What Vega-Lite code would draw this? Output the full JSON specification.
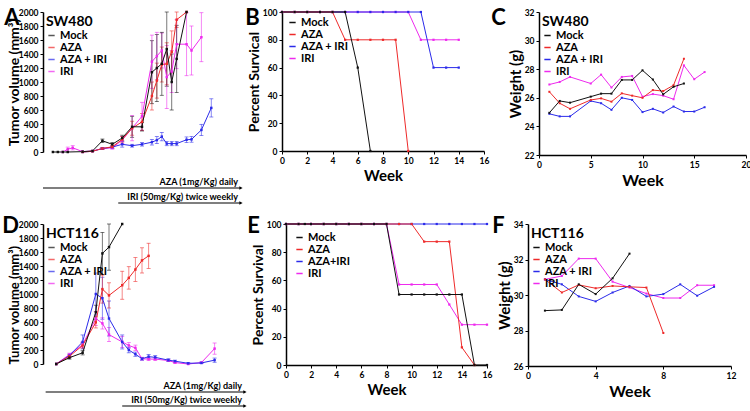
{
"$schema": "https://vega.github.io/schema/vega-lite/v6.json",
"padding": {"left": 2, "top": 7, "right": 0, "bottom": 0},
"config": {
  "font": "Lato",
  "view": {"stroke": null},
  "title": {"fontSize": 22, "fontWeight": "bold", "color": "black", "font": "Lato"},
  "axis": {"domainColor": "black", "domainWidth": 1.5, "tickColor": "black", "tickWidth": 1, "tickSize": 3, "labelFontSize": 8.5, "labelFontWeight": "bold", "labelColor": "black", "titleFontSize": 15, "titleFontWeight": "bold", "titleColor": "black", "grid": false, "labelFlush": false, "labelPadding": 2, "titlePadding": 4, "labelFont": "Lato", "titleFont": "Lato"},
  "axisY": {"titlePadding": 1},
  "legend": {"labelFont": "Lato", "titleFont": "Lato", "labelFontWeight": "bold", "labelFontSize": 11, "titleFontSize": 14, "titleFontWeight": "bold", "labelColor": "black", "titleColor": "black", "symbolType": "stroke", "symbolStrokeWidth": 1.5, "symbolSize": 40, "rowPadding": 0, "padding": 0, "titlePadding": 1, "orient": "top-left", "offset": 3, "labelOffset": 3}
},
"datasets": {
  "swTumor": [
    {"g":"IRI","week":2,"value":0},{"g":"IRI","week":2.5,"value":40,"err":30},{"g":"IRI","week":3,"value":60,"err":30},{"g":"IRI","week":4,"value":5},{"g":"IRI","week":5,"value":15},{"g":"IRI","week":6,"value":50,"err":15},{"g":"IRI","week":7,"value":60,"err":20},{"g":"IRI","week":8,"value":170,"err":50},{"g":"IRI","week":9,"value":340,"err":180},{"g":"IRI","week":10,"value":510,"err":200},{"g":"IRI","week":11,"value":1290,"err":380},{"g":"IRI","week":11.5,"value":1370,"err":340},{"g":"IRI","week":12,"value":1450,"err":250},{"g":"IRI","week":12.5,"value":1070,"err":450},{"g":"IRI","week":13,"value":1150,"err":300},{"g":"IRI","week":13.5,"value":1540,"err":350},{"g":"IRI","week":14.5,"value":1540,"err":450},{"g":"IRI","week":15,"value":1450,"err":350},{"g":"IRI","week":16,"value":1640,"err":350},
    {"g":"AZA + IRI","week":4,"value":0},{"g":"AZA + IRI","week":5,"value":10},{"g":"AZA + IRI","week":6,"value":50,"err":10},{"g":"AZA + IRI","week":7,"value":70,"err":15},{"g":"AZA + IRI","week":8,"value":110,"err":40},{"g":"AZA + IRI","week":9,"value":90,"err":20},{"g":"AZA + IRI","week":10,"value":110,"err":25},{"g":"AZA + IRI","week":11,"value":140,"err":40},{"g":"AZA + IRI","week":11.5,"value":170,"err":50},{"g":"AZA + IRI","week":12,"value":220,"err":60},{"g":"AZA + IRI","week":12.5,"value":120,"err":30},{"g":"AZA + IRI","week":13,"value":120,"err":30},{"g":"AZA + IRI","week":13.5,"value":120,"err":30},{"g":"AZA + IRI","week":14.5,"value":175,"err":40},{"g":"AZA + IRI","week":15,"value":180,"err":40},{"g":"AZA + IRI","week":16,"value":315,"err":80},{"g":"AZA + IRI","week":17,"value":630,"err":130},
    {"g":"AZA","week":4,"value":0},{"g":"AZA","week":5,"value":10},{"g":"AZA","week":6,"value":50,"err":15},{"g":"AZA","week":7,"value":75,"err":20},{"g":"AZA","week":8,"value":180,"err":40},{"g":"AZA","week":9,"value":340,"err":100},{"g":"AZA","week":10,"value":430,"err":120},{"g":"AZA","week":11,"value":800,"err":200},{"g":"AZA","week":11.5,"value":1020,"err":250},{"g":"AZA","week":12,"value":1250,"err":250},{"g":"AZA","week":12.5,"value":1260,"err":300},{"g":"AZA","week":13,"value":1430,"err":300},{"g":"AZA","week":13.5,"value":1890,"err":110},{"g":"AZA","week":14.5,"value":2000},
    {"g":"Mock","week":1,"value":0},{"g":"Mock","week":1.5,"value":0},{"g":"Mock","week":2,"value":0},{"g":"Mock","week":2.5,"value":0},{"g":"Mock","week":4,"value":5},{"g":"Mock","week":5,"value":15},{"g":"Mock","week":6,"value":160,"err":25},{"g":"Mock","week":7,"value":110,"err":25},{"g":"Mock","week":8,"value":200,"err":40},{"g":"Mock","week":9,"value":360,"err":150},{"g":"Mock","week":10,"value":360,"err":60},{"g":"Mock","week":11,"value":1140,"err":450},{"g":"Mock","week":11.5,"value":1200,"err":480},{"g":"Mock","week":12,"value":1260,"err":450},{"g":"Mock","week":12.5,"value":1470,"err":530},{"g":"Mock","week":13,"value":1000,"err":400},{"g":"Mock","week":13.5,"value":1330,"err":480},{"g":"Mock","week":14.5,"value":2000}
  ],
  "hctTumor": [
    {"g":"IRI","week":1,"value":0},{"g":"IRI","week":2,"value":135,"err":20},{"g":"IRI","week":3,"value":275,"err":40},{"g":"IRI","week":4,"value":650,"err":100},{"g":"IRI","week":4.5,"value":580,"err":80},{"g":"IRI","week":5,"value":420,"err":100},{"g":"IRI","week":6,"value":315,"err":80},{"g":"IRI","week":6.5,"value":265,"err":40},{"g":"IRI","week":7,"value":230,"err":40},{"g":"IRI","week":7.5,"value":75,"err":20},{"g":"IRI","week":8,"value":70,"err":20},{"g":"IRI","week":8.5,"value":70,"err":20},{"g":"IRI","week":9.5,"value":50,"err":15},{"g":"IRI","week":10,"value":20,"err":10},{"g":"IRI","week":11,"value":0},{"g":"IRI","week":12,"value":20,"err":10},{"g":"IRI","week":13,"value":220,"err":80},
    {"g":"AZA + IRI","week":1,"value":0},{"g":"AZA + IRI","week":2,"value":120,"err":20},{"g":"AZA + IRI","week":3,"value":315,"err":100},{"g":"AZA + IRI","week":4,"value":1000,"err":300},{"g":"AZA + IRI","week":4.5,"value":940,"err":300},{"g":"AZA + IRI","week":5,"value":650,"err":250},{"g":"AZA + IRI","week":6,"value":315,"err":100},{"g":"AZA + IRI","week":6.5,"value":200,"err":40},{"g":"AZA + IRI","week":7,"value":140,"err":30},{"g":"AZA + IRI","week":7.5,"value":75,"err":20},{"g":"AZA + IRI","week":8,"value":105,"err":30},{"g":"AZA + IRI","week":8.5,"value":95,"err":25},{"g":"AZA + IRI","week":9.5,"value":55,"err":20},{"g":"AZA + IRI","week":10,"value":40,"err":15},{"g":"AZA + IRI","week":11,"value":10,"err":10},{"g":"AZA + IRI","week":12,"value":15,"err":10},{"g":"AZA + IRI","week":13,"value":55,"err":30},
    {"g":"AZA","week":1,"value":0},{"g":"AZA","week":2,"value":110,"err":20},{"g":"AZA","week":3,"value":265,"err":40},{"g":"AZA","week":4,"value":595,"err":80},{"g":"AZA","week":4.5,"value":1070,"err":200},{"g":"AZA","week":5,"value":980,"err":180},{"g":"AZA","week":6,"value":1125,"err":200},{"g":"AZA","week":6.5,"value":1230,"err":160},{"g":"AZA","week":7,"value":1350,"err":170},{"g":"AZA","week":7.5,"value":1480,"err":180},{"g":"AZA","week":8,"value":1545,"err":180},
    {"g":"Mock","week":1,"value":0},{"g":"Mock","week":2,"value":90,"err":20},{"g":"Mock","week":3,"value":160,"err":30},{"g":"Mock","week":4,"value":740,"err":100},{"g":"Mock","week":4.5,"value":1580,"err":300},{"g":"Mock","week":5,"value":1670,"err":330},{"g":"Mock","week":6,"value":2000}
  ],
  "swSurv": [
    {"g":"IRI","week":0,"value":100},{"g":"IRI","week":1,"value":100},{"g":"IRI","week":2,"value":100},{"g":"IRI","week":3,"value":100},{"g":"IRI","week":4,"value":100},{"g":"IRI","week":5,"value":100},{"g":"IRI","week":6,"value":100},{"g":"IRI","week":7,"value":100},{"g":"IRI","week":8,"value":100},{"g":"IRI","week":9,"value":100},{"g":"IRI","week":10,"value":100},{"g":"IRI","week":11,"value":80},{"g":"IRI","week":12,"value":80},{"g":"IRI","week":13,"value":80},{"g":"IRI","week":14,"value":80},
    {"g":"AZA + IRI","week":0,"value":100},{"g":"AZA + IRI","week":1,"value":100},{"g":"AZA + IRI","week":2,"value":100},{"g":"AZA + IRI","week":3,"value":100},{"g":"AZA + IRI","week":4,"value":100},{"g":"AZA + IRI","week":5,"value":100},{"g":"AZA + IRI","week":6,"value":100},{"g":"AZA + IRI","week":7,"value":100},{"g":"AZA + IRI","week":8,"value":100},{"g":"AZA + IRI","week":9,"value":100},{"g":"AZA + IRI","week":10,"value":100},{"g":"AZA + IRI","week":11,"value":100},{"g":"AZA + IRI","week":12,"value":60},{"g":"AZA + IRI","week":13,"value":60},{"g":"AZA + IRI","week":14,"value":60},
    {"g":"AZA","week":0,"value":100},{"g":"AZA","week":1,"value":100},{"g":"AZA","week":2,"value":100},{"g":"AZA","week":3,"value":100},{"g":"AZA","week":4,"value":100},{"g":"AZA","week":5,"value":80},{"g":"AZA","week":6,"value":80},{"g":"AZA","week":7,"value":80},{"g":"AZA","week":8,"value":80},{"g":"AZA","week":9,"value":80},{"g":"AZA","week":10,"value":0},
    {"g":"Mock","week":0,"value":100},{"g":"Mock","week":1,"value":100},{"g":"Mock","week":2,"value":100},{"g":"Mock","week":3,"value":100},{"g":"Mock","week":4,"value":100},{"g":"Mock","week":5,"value":100},{"g":"Mock","week":6,"value":60},{"g":"Mock","week":7,"value":0}
  ],
  "hctSurv": [
    {"g":"IRI","week":0,"value":100},{"g":"IRI","week":1,"value":100},{"g":"IRI","week":2,"value":100},{"g":"IRI","week":3,"value":100},{"g":"IRI","week":4,"value":100},{"g":"IRI","week":5,"value":100},{"g":"IRI","week":6,"value":100},{"g":"IRI","week":7,"value":100},{"g":"IRI","week":8,"value":100},{"g":"IRI","week":9,"value":57.1},{"g":"IRI","week":10,"value":57.1},{"g":"IRI","week":11,"value":57.1},{"g":"IRI","week":12,"value":57.1},{"g":"IRI","week":13,"value":42.9},{"g":"IRI","week":14,"value":28.6},{"g":"IRI","week":15,"value":28.6},{"g":"IRI","week":16,"value":28.6},
    {"g":"AZA+IRI","week":0,"value":100},{"g":"AZA+IRI","week":1,"value":100},{"g":"AZA+IRI","week":2,"value":100},{"g":"AZA+IRI","week":3,"value":100},{"g":"AZA+IRI","week":4,"value":100},{"g":"AZA+IRI","week":5,"value":100},{"g":"AZA+IRI","week":6,"value":100},{"g":"AZA+IRI","week":7,"value":100},{"g":"AZA+IRI","week":8,"value":100},{"g":"AZA+IRI","week":9,"value":100},{"g":"AZA+IRI","week":10,"value":100},{"g":"AZA+IRI","week":11,"value":100},{"g":"AZA+IRI","week":12,"value":100},{"g":"AZA+IRI","week":13,"value":100},{"g":"AZA+IRI","week":14,"value":100},{"g":"AZA+IRI","week":15,"value":100},{"g":"AZA+IRI","week":16,"value":100},
    {"g":"AZA","week":0,"value":100},{"g":"AZA","week":1,"value":100},{"g":"AZA","week":2,"value":100},{"g":"AZA","week":3,"value":100},{"g":"AZA","week":4,"value":100},{"g":"AZA","week":5,"value":100},{"g":"AZA","week":6,"value":100},{"g":"AZA","week":7,"value":100},{"g":"AZA","week":8,"value":100},{"g":"AZA","week":9,"value":100},{"g":"AZA","week":10,"value":100},{"g":"AZA","week":11,"value":87.5},{"g":"AZA","week":12,"value":87.5},{"g":"AZA","week":13,"value":87.5},{"g":"AZA","week":14,"value":12.5},{"g":"AZA","week":15,"value":0},
    {"g":"Mock","week":0,"value":100},{"g":"Mock","week":1,"value":100},{"g":"Mock","week":1.5,"value":100},{"g":"Mock","week":2,"value":100},{"g":"Mock","week":3,"value":100},{"g":"Mock","week":4,"value":100},{"g":"Mock","week":5,"value":100},{"g":"Mock","week":6,"value":100},{"g":"Mock","week":7,"value":100},{"g":"Mock","week":8,"value":100},{"g":"Mock","week":9,"value":50},{"g":"Mock","week":10,"value":50},{"g":"Mock","week":11,"value":50},{"g":"Mock","week":12,"value":50},{"g":"Mock","week":13,"value":50},{"g":"Mock","week":14,"value":50},{"g":"Mock","week":15,"value":0},{"g":"Mock","week":16,"value":0}
  ],
  "swWeight": [
    {"g":"IRI","week":1,"value":26.93},{"g":"IRI","week":2,"value":27.11},{"g":"IRI","week":3,"value":27.46},{"g":"IRI","week":5,"value":27.0},{"g":"IRI","week":6,"value":27.62},{"g":"IRI","week":7,"value":26.72},{"g":"IRI","week":8,"value":27.46},{"g":"IRI","week":9,"value":27.53},{"g":"IRI","week":10,"value":26.08},{"g":"IRI","week":11,"value":26.26},{"g":"IRI","week":12,"value":26.15},{"g":"IRI","week":13,"value":25.9},{"g":"IRI","week":14,"value":28.27},{"g":"IRI","week":15,"value":27.3},{"g":"IRI","week":16,"value":27.8},
    {"g":"AZA + IRI","week":1,"value":24.88},{"g":"AZA + IRI","week":2,"value":24.7},{"g":"AZA + IRI","week":3,"value":24.7},{"g":"AZA + IRI","week":5,"value":25.78},{"g":"AZA + IRI","week":6,"value":25.62},{"g":"AZA + IRI","week":7,"value":25.16},{"g":"AZA + IRI","week":8,"value":26.0},{"g":"AZA + IRI","week":9,"value":25.85},{"g":"AZA + IRI","week":10,"value":25.0},{"g":"AZA + IRI","week":11,"value":25.23},{"g":"AZA + IRI","week":12,"value":24.97},{"g":"AZA + IRI","week":13,"value":25.39},{"g":"AZA + IRI","week":14,"value":25.04},{"g":"AZA + IRI","week":15,"value":25.04},{"g":"AZA + IRI","week":16,"value":25.34},
    {"g":"AZA","week":1,"value":26.42},{"g":"AZA","week":2,"value":25.62},{"g":"AZA","week":3,"value":25.23},{"g":"AZA","week":5,"value":25.85},{"g":"AZA","week":6,"value":25.96},{"g":"AZA","week":7,"value":25.73},{"g":"AZA","week":8,"value":26.31},{"g":"AZA","week":9,"value":26.15},{"g":"AZA","week":10,"value":26.0},{"g":"AZA","week":11,"value":26.54},{"g":"AZA","week":12,"value":26.47},{"g":"AZA","week":13,"value":26.88},{"g":"AZA","week":14,"value":28.73},
    {"g":"Mock","week":1,"value":24.95},{"g":"Mock","week":2,"value":25.78},{"g":"Mock","week":3,"value":25.66},{"g":"Mock","week":5,"value":26.08},{"g":"Mock","week":6,"value":26.29},{"g":"Mock","week":7,"value":26.29},{"g":"Mock","week":8,"value":27.25},{"g":"Mock","week":9,"value":27.25},{"g":"Mock","week":10,"value":27.92},{"g":"Mock","week":11,"value":27.28},{"g":"Mock","week":12,"value":26.24},{"g":"Mock","week":13,"value":26.77},{"g":"Mock","week":14,"value":27.0}
  ],
  "hctWeight": [
    {"g":"IRI","week":1,"value":30.88},{"g":"IRI","week":2,"value":31.07},{"g":"IRI","week":3,"value":32.05},{"g":"IRI","week":4,"value":32.05},{"g":"IRI","week":5,"value":30.75},{"g":"IRI","week":6,"value":30.42},{"g":"IRI","week":7,"value":30.08},{"g":"IRI","week":8,"value":29.83},{"g":"IRI","week":9,"value":29.83},{"g":"IRI","week":10,"value":30.55},{"g":"IRI","week":11,"value":30.55},
    {"g":"AZA + IRI","week":1,"value":30.88},{"g":"AZA + IRI","week":2,"value":30.6},{"g":"AZA + IRI","week":3,"value":29.92},{"g":"AZA + IRI","week":4,"value":29.64},{"g":"AZA + IRI","week":5,"value":30.14},{"g":"AZA + IRI","week":6,"value":30.51},{"g":"AZA + IRI","week":7,"value":29.92},{"g":"AZA + IRI","week":8,"value":30.05},{"g":"AZA + IRI","week":9,"value":30.6},{"g":"AZA + IRI","week":10,"value":29.96},{"g":"AZA + IRI","week":11,"value":30.46},
    {"g":"AZA","week":1,"value":30.88},{"g":"AZA","week":2,"value":30.14},{"g":"AZA","week":3,"value":30.57},{"g":"AZA","week":4,"value":30.38},{"g":"AZA","week":5,"value":30.51},{"g":"AZA","week":6,"value":30.46},{"g":"AZA","week":7,"value":30.42},{"g":"AZA","week":8,"value":27.86},
    {"g":"Mock","week":1,"value":29.12},{"g":"Mock","week":2,"value":29.16},{"g":"Mock","week":3,"value":30.6},{"g":"Mock","week":4,"value":30.05},{"g":"Mock","week":5,"value":30.94},{"g":"Mock","week":6,"value":32.33}
  ],
  "swTreat": [
    {"treatment":"AZA (1mg/Kg) daily","track":"AZA","start":0,"end":20},
    {"treatment":"IRI (50mg/Kg) twice weekly","track":"IRI","start":7.6,"end":20}
  ],
  "hctTreat": [
    {"treatment":"AZA (1mg/Kg) daily","track":"AZA","start":0.2,"end":15.3},
    {"treatment":"IRI (50mg/Kg) twice weekly","track":"IRI","start":6,"end":15.3}
  ]
},
"spacing": 10,
"resolve": {"scale": {"color": "independent"}, "legend": {"color": "independent"}},
"vconcat": [
 {"hconcat": [
  {"width": 198, "height": 140,
   "title": {"text": "A", "anchor": "start", "frame": "bounds", "offset": -22, "dx": -3},
   "layer": [
    {"data": {"name": "swTumor"},
     "encoding": {
       "x": {"field": "week", "type": "quantitative", "scale": {"domain": [0, 20]}, "axis": {"values": [0,5,10,15,20], "title": "Week", "titleFontSize": 16}},
       "y": {"field": "value", "type": "quantitative", "scale": {"domain": [0, 2000]}, "axis": {"values": [0,200,400,600,800,1000,1200,1400,1600,1800,2000], "format": "d", "title": "Tumor volume (mm³)", "titleFontSize": 14, "titlePadding": -3}},
       "color": {"field": "g", "type": "nominal", "scale": {"domain": ["Mock","AZA","AZA + IRI","IRI"], "range": ["#111111","#ee2a2a","#2b2bea","#ee2aee"]}, "legend": {"title": "SW480"}}
     },
     "layer": [
      {"transform": [{"filter": "datum.err > 0"}], "mark": {"type": "errorbar", "ticks": {"size": 4}, "thickness": 0.8, "opacity": 0.7}, "encoding": {"yError": {"field": "err"}}},
      {"mark": {"type": "line", "strokeWidth": 1, "point": {"shape": "square", "size": 6, "filled": true}}}
     ]},
    {"data": {"name": "swTreat"},
     "encoding": {"y": {"field": "track", "type": "ordinal", "scale": {"type": "point", "range": [176, 191], "padding": 0}, "axis": null}},
     "layer": [
      {"mark": {"type": "rule", "color": "black", "strokeWidth": 1.2}, "encoding": {"x": {"field": "start", "type": "quantitative", "scale": {"domain": [0, 20]}, "axis": null}, "x2": {"field": "end"}}},
      {"mark": {"type": "point", "shape": "triangle-right", "size": 14, "filled": true, "color": "black", "opacity": 1}, "encoding": {"x": {"field": "end", "type": "quantitative", "scale": {"domain": [0, 20]}, "axis": null}}},
      {"mark": {"type": "text", "align": "right", "baseline": "bottom", "dx": -3, "dy": -1, "fontSize": 9, "fontWeight": "bold", "color": "black"}, "encoding": {"x": {"field": "end", "type": "quantitative", "scale": {"domain": [0, 20]}, "axis": null}, "text": {"field": "treatment"}}}
     ]}
   ],
   "resolve": {"scale": {"y": "independent"}}
  },
  {"width": 202, "height": 139,
   "title": {"text": "B", "anchor": "start", "frame": "bounds", "offset": -22, "dx": -2},
   "data": {"name": "swSurv"},
   "mark": {"type": "line", "strokeWidth": 1, "point": {"shape": "square", "size": 5, "filled": true}},
   "encoding": {
     "x": {"field": "week", "type": "quantitative", "scale": {"domain": [0, 16]}, "axis": {"values": [0,2,4,6,8,10,12,14,16], "title": "Week"}},
     "y": {"field": "value", "type": "quantitative", "scale": {"domain": [0, 100]}, "axis": {"values": [0,20,40,60,80,100], "title": "Percent Survical", "titleFontSize": 14}},
     "color": {"field": "g", "type": "nominal", "scale": {"domain": ["Mock","AZA","AZA + IRI","IRI"], "range": ["#111111","#ee2a2a","#2b2bea","#ee2aee"]}, "legend": {"title": null, "offset": 5}}
   }
  },
  {"width": 207, "height": 143,
   "title": {"text": "C", "anchor": "start", "frame": "bounds", "offset": -22, "dx": -17},
   "data": {"name": "swWeight"},
   "mark": {"type": "line", "strokeWidth": 1, "point": {"shape": "square", "size": 4, "filled": true}},
   "encoding": {
     "x": {"field": "week", "type": "quantitative", "scale": {"domain": [0, 20]}, "axis": {"values": [0,5,10,15,20], "title": "Week", "titleFontSize": 16}},
     "y": {"field": "value", "type": "quantitative", "scale": {"domain": [22, 32]}, "axis": {"values": [22,24,26,28,30,32], "title": "Weight (g)", "titleFontSize": 15}},
     "color": {"field": "g", "type": "nominal", "scale": {"domain": ["Mock","AZA","AZA + IRI","IRI"], "range": ["#111111","#ee2a2a","#2b2bea","#ee2aee"]}, "legend": {"title": "SW480", "offset": 3}}
   }
  }
 ], "spacing": 2, "resolve": {"scale": {"color": "independent"}, "legend": {"color": "independent"}}},
 {"hconcat": [
  {"width": 198, "height": 140,
   "title": {"text": "D", "anchor": "start", "frame": "bounds", "offset": -18, "dx": -6},
   "layer": [
    {"data": {"name": "hctTumor"},
     "encoding": {
       "x": {"field": "week", "type": "quantitative", "scale": {"domain": [0, 15]}, "axis": {"values": [0,5,10,15], "title": "Week", "titleFontSize": 16, "titlePadding": 6}},
       "y": {"field": "value", "type": "quantitative", "scale": {"domain": [0, 2000]}, "axis": {"values": [0,200,400,600,800,1000,1200,1400,1600,1800,2000], "format": "d", "title": "Tumor volume (mm³)", "titleFontSize": 13, "titlePadding": -3, "titleAnchor": "start"}},
       "color": {"field": "g", "type": "nominal", "scale": {"domain": ["Mock","AZA","AZA + IRI","IRI"], "range": ["#111111","#ee2a2a","#2b2bea","#ee2aee"]}, "legend": {"title": "HCT116"}}
     },
     "layer": [
      {"transform": [{"filter": "datum.err > 0"}], "mark": {"type": "errorbar", "ticks": {"size": 4}, "thickness": 0.8, "opacity": 0.7}, "encoding": {"yError": {"field": "err"}}},
      {"mark": {"type": "line", "strokeWidth": 1, "point": {"shape": "square", "size": 6, "filled": true}}}
     ]},
    {"data": {"name": "hctTreat"},
     "encoding": {"y": {"field": "track", "type": "ordinal", "scale": {"type": "point", "range": [168, 182], "padding": 0}, "axis": null}},
     "layer": [
      {"mark": {"type": "rule", "color": "black", "strokeWidth": 1.2}, "encoding": {"x": {"field": "start", "type": "quantitative", "scale": {"domain": [0, 15]}, "axis": null}, "x2": {"field": "end"}}},
      {"mark": {"type": "point", "shape": "triangle-right", "size": 14, "filled": true, "color": "black", "opacity": 1}, "encoding": {"x": {"field": "end", "type": "quantitative", "scale": {"domain": [0, 15]}, "axis": null}}},
      {"mark": {"type": "text", "align": "right", "baseline": "bottom", "dx": -3, "dy": -1, "fontSize": 9, "fontWeight": "bold", "color": "black"}, "encoding": {"x": {"field": "end", "type": "quantitative", "scale": {"domain": [0, 15]}, "axis": null}, "text": {"field": "treatment"}}}
     ]}
   ],
   "resolve": {"scale": {"y": "independent"}}
  },
  {"width": 201, "height": 141,
   "title": {"text": "E", "anchor": "start", "frame": "bounds", "offset": -18, "dx": -4},
   "data": {"name": "hctSurv"},
   "mark": {"type": "line", "strokeWidth": 1, "point": {"shape": "square", "size": 5, "filled": true}},
   "encoding": {
     "x": {"field": "week", "type": "quantitative", "scale": {"domain": [0, 16]}, "axis": {"values": [0,2,4,6,8,10,12,14,16], "title": "Week"}},
     "y": {"field": "value", "type": "quantitative", "scale": {"domain": [0, 100]}, "axis": {"values": [0,20,40,60,80,100], "title": "Percent Survival", "titleFontSize": 14}},
     "color": {"field": "g", "type": "nominal", "scale": {"domain": ["Mock","AZA","AZA+IRI","IRI"], "range": ["#111111","#ee2a2a","#2b2bea","#ee2aee"]}, "legend": {"title": null, "offset": 8}}
   }
  },
  {"width": 203, "height": 142,
   "title": {"text": "F", "anchor": "start", "frame": "bounds", "offset": -18, "dx": -5},
   "data": {"name": "hctWeight"},
   "mark": {"type": "line", "strokeWidth": 1, "point": {"shape": "square", "size": 4, "filled": true}},
   "encoding": {
     "x": {"field": "week", "type": "quantitative", "scale": {"domain": [0, 12]}, "axis": {"values": [0,4,8,12], "title": "Week", "titleFontSize": 16}},
     "y": {"field": "value", "type": "quantitative", "scale": {"domain": [26, 34]}, "axis": {"values": [26,28,30,32,34], "title": "Weight (g)", "titleFontSize": 15}},
     "color": {"field": "g", "type": "nominal", "scale": {"domain": ["Mock","AZA","AZA + IRI","IRI"], "range": ["#111111","#ee2a2a","#2b2bea","#ee2aee"]}, "legend": {"title": "HCT116", "offset": 3}}
   }
  }
 ], "spacing": 0, "resolve": {"scale": {"color": "independent"}, "legend": {"color": "independent"}}}
]
}
